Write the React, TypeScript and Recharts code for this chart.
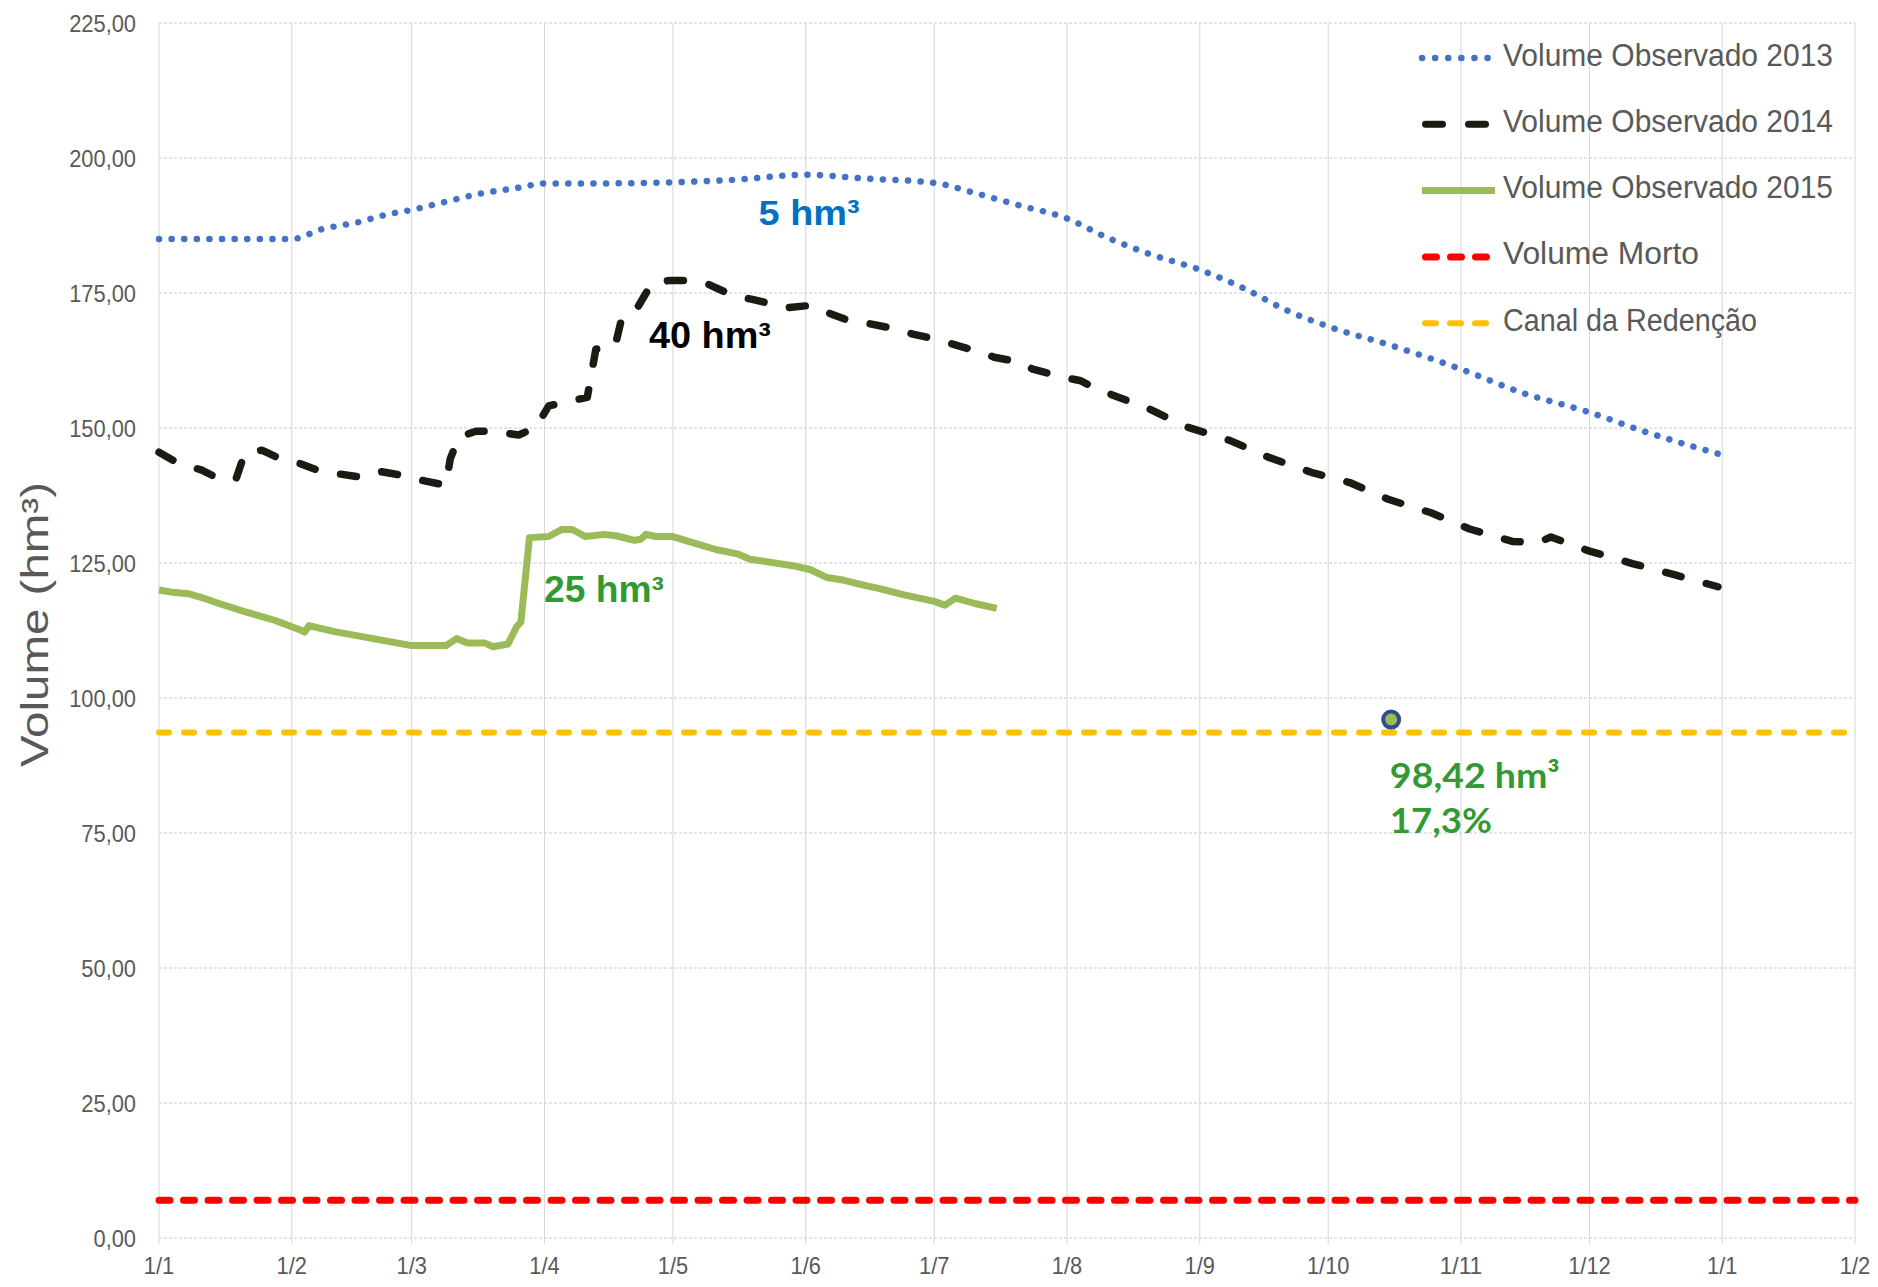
import React from 'react';
import {
  LineChart,
  Line,
  XAxis,
  YAxis,
  CartesianGrid,
  Legend,
  ReferenceDot,
} from 'recharts';

// eixo x: dias desde 1/1 (até 1/2 do ano seguinte)
const monthTicks = [0, 31, 59, 90, 120, 151, 181, 212, 243, 273, 304, 334, 365, 396];
const monthLabels = ['1/1', '1/2', '1/3', '1/4', '1/5', '1/6', '1/7', '1/8', '1/9', '1/10', '1/11', '1/12', '1/1', '1/2'];
const volumeTicks = [0, 25, 50, 75, 100, 125, 150, 175, 200, 225];

const days2013 = [0, 31, 38, 47, 53, 59, 67, 75, 84, 90, 105, 120, 135, 151, 165, 181, 191, 201, 212, 221, 231, 243, 254, 263, 273, 288, 304, 318, 334, 347, 365];
const vol2013 = [185, 185, 186.8, 188.2, 189.5, 190.4, 191.9, 193.4, 194.5, 195.3, 195.3, 195.5, 196, 196.9, 196.2, 195.4, 193.4, 191.2, 188.8, 185.4, 182.3, 179.3, 175.6, 171.9, 168.8, 165.2, 160.9, 156.6, 152.9, 149.3, 145];

const days2014 = [0, 4, 10, 14, 18, 20, 24, 28, 33, 37, 42, 47, 52, 57, 62, 67, 68, 70, 74, 78, 84, 88, 91, 95, 100, 102, 106.5, 108, 111.5, 115, 119, 124, 128, 133, 138, 143, 147, 152, 156, 161, 166, 171, 176, 181, 185, 192, 195, 201, 204, 211, 215, 220, 224, 231, 240, 250, 259, 269, 278, 287, 297, 306, 316, 322, 325, 334, 344, 354, 364];
const vol2014 = [145.5, 143.7, 142.2, 140.6, 140.6, 145.3, 145.9, 144.4, 143.4, 142.2, 141.5, 140.9, 141.9, 141.2, 140.2, 139.4, 144.3, 148.3, 149.4, 149.4, 148.7, 150.1, 154.1, 154.8, 155.7, 164.6, 165.2, 170.2, 172, 176.7, 177.3, 177.3, 176.7, 174.9, 173.9, 173, 172.3, 172.7, 171.4, 169.9, 169.3, 168.5, 167.4, 166.5, 165.6, 164, 163.1, 162.2, 160.9, 159.4, 158.8, 156.9, 155.7, 153.6, 150.2, 147.7, 144.6, 141.8, 139.9, 136.8, 134.3, 131.3, 129, 128.8, 129.8, 127.2, 124.9, 122.8, 120.6];

const days2015 = [0, 3, 7, 10, 14, 20, 27, 33, 34, 35, 41, 50, 59, 67, 69.5, 72, 76, 78, 81.5, 83.5, 84.5, 86.5, 91, 94, 96.5, 99.5, 104, 107, 111, 112.5, 113.7, 116, 120, 124, 130, 135, 138, 148, 152, 156, 160, 165, 168, 174, 181, 183.5, 186, 190.5, 195.6];
const vol2015 = [120, 119.6, 119.3, 118.6, 117.5, 116, 114.4, 112.6, 112.2, 113.4, 112.3, 111, 109.7, 109.7, 111, 110.2, 110.2, 109.5, 110, 113.2, 114.1, 129.7, 129.9, 131.2, 131.2, 129.9, 130.3, 130, 129.2, 129.4, 130.3, 129.9, 129.9, 128.9, 127.5, 126.7, 125.7, 124.5, 123.8, 122.3, 121.8, 120.8, 120.3, 119.1, 117.9, 117.2, 118.5, 117.5, 116.6];

const volumeMorto = 7;
const canalRedencao = 93.6;
const atualDia = 287.7;
const atualVolume = 96;

const toSeries = (days: number[], vols: number[]) => days.map((d, i) => ({ d, v: vols[i] }));
const flat = (v: number) => [{ d: 0, v }, { d: 396, v }];

const data2013 = toSeries(days2013, vol2013);
const data2014 = toSeries(days2014, vol2014);
const data2015 = toSeries(days2015, vol2015);
const dataMorto = flat(volumeMorto);
const dataCanal = flat(canalRedencao);
const dataAtual = [{ d: atualDia, v: atualVolume }];

const BLUE = '#4472C4';
const BLACK = '#1b1b14';
const GREEN = '#9BBB59';
const RED = '#FF0000';
const ORANGE = '#FFC000';
const GRAY_TEXT = '#595959';
const FONT = '"Liberation Sans", Arial, sans-serif';

const legendItems = [
  { name: 'Volume Observado 2013', color: BLUE, w: 6.5, dash: '0.1 13', cap: 'round', x1: 7, x2: 73, len: 330 },
  { name: 'Volume Observado 2014', color: BLACK, w: 7, dash: '17 26', cap: 'round', x1: 10.5, x2: 72, len: 330 },
  { name: 'Volume Observado 2015', color: GREEN, w: 7, dash: undefined, cap: 'butt', x1: 7, x2: 80, len: 330 },
  { name: 'Volume Morto', color: RED, w: 7, dash: '11 14', cap: 'round', x1: 10.5, x2: 72, len: 196 },
  { name: 'Canal da Redenção', color: ORANGE, w: 6, dash: '11 14', cap: 'round', x1: 10, x2: 72, len: 254 },
];

const LegendBox = () => (
  <svg width={470} height={330}>
    {legendItems.map((it, i) => {
      const y = 38 + i * 66.3;
      return (
        <g key={it.name}>
          <line
            x1={it.x1}
            x2={it.x2}
            y1={y}
            y2={y}
            stroke={it.color}
            strokeWidth={it.w}
            strokeDasharray={it.dash}
            strokeLinecap={it.cap as any}
          />
          <text
            x={88}
            y={y - 3}
            dominantBaseline="central"
            fontFamily={FONT}
            fontSize={31}
            fill={GRAY_TEXT}
            textLength={it.len}
            lengthAdjust="spacingAndGlyphs"
          >
            {it.name}
          </text>
        </g>
      );
    })}
  </svg>
);

// rótulos dos eixos um pouco condensados, como no original
const textWidth = (s: string, size: number) =>
  s.split('').reduce((w, c) => w + (c === ',' || c === '/' ? 0.278 : 0.556), 0) * size;

const AxisTick = (props: any) => {
  const { x, y, payload, textAnchor, tickFormatter, dyEm } = props;
  const label = tickFormatter ? tickFormatter(payload.value) : String(payload.value);
  const size = 24;
  return (
    <text
      x={x}
      y={y}
      dy={dyEm}
      textAnchor={textAnchor}
      fill={GRAY_TEXT}
      fontSize={size}
      fontFamily={FONT}
      textLength={textWidth(label, size) * 0.91}
      lengthAdjust="spacingAndGlyphs"
    >
      {label}
    </text>
  );
};

const annotation = (text: string, color: string, len: number, size: number, family: string) => ({
  content: (props: any) => {
    const vb = props.viewBox || {};
    return (
      <text
        x={vb.x}
        y={vb.y}
        fill={color}
        fontFamily={family}
        fontWeight="bold"
        fontSize={size}
        textLength={len}
        lengthAdjust="spacingAndGlyphs"
      >
        {text}
      </text>
    );
  },
});

const YTitle = (props: any) => {
  const vb = props.viewBox || { y: 23, height: 1215 };
  const cy = vb.y + vb.height / 2 - 6;
  return (
    <text
      x={35}
      y={cy}
      transform={`rotate(-90, 35, ${cy})`}
      textAnchor="middle"
      dominantBaseline="central"
      fontFamily={FONT}
      fontSize={38}
      fill={GRAY_TEXT}
      textLength={285}
      lengthAdjust="spacingAndGlyphs"
    >
      Volume (hm³)
    </text>
  );
};

const AtualDot = (props: any) => {
  const { cx, cy } = props;
  if (cx == null || cy == null) return null;
  return <circle cx={cx} cy={cy} r={8} fill={GREEN} stroke="#2F4F8A" strokeWidth={4} />;
};

export default function App() {
  return (
    <div style={{ position: 'absolute', left: 0, top: 0, width: 1878, height: 1287, background: '#fff' }}>
      <LineChart width={1878} height={1287} margin={{ top: 23, right: 23, bottom: 0, left: 0 }}>
        <CartesianGrid horizontal vertical={false} stroke="#c8c8c8" strokeDasharray="3 2" />
        <CartesianGrid horizontal={false} vertical stroke="#d6d6d6" />
        <XAxis
          type="number"
          dataKey="d"
          domain={[0, 396]}
          ticks={monthTicks}
          interval={0}
          height={49}
          axisLine={false}
          tickLine={{ stroke: '#d6d6d6' }}
          tickSize={6}
          tickMargin={12}
          tickFormatter={(v: number) => monthLabels[monthTicks.indexOf(v)] ?? ''}
          tick={<AxisTick dyEm="0.75em" />}
        />
        <YAxis
          type="number"
          domain={[0, 225]}
          ticks={volumeTicks}
          interval={0}
          width={159}
          axisLine={false}
          tickLine={false}
          tickSize={0}
          tickMargin={23}
          tickFormatter={(v: number) => v.toFixed(2).replace('.', ',')}
          tick={<AxisTick dyEm="0.36em" />}
          label={{ content: (p: any) => <YTitle {...p} /> }}
        />
        <Legend
          layout="vertical"
          align="center"
          verticalAlign="middle"
          content={() => <LegendBox />}
          wrapperStyle={{ left: 1415, top: 20, width: 470, height: 330 }}
        />

        <Line
          data={dataMorto}
          dataKey="v"
          name="Volume Morto"
          stroke={RED}
          strokeWidth={7}
          strokeDasharray="11 13.5"
          strokeLinecap="round"
          dot={false}
          activeDot={false}
          isAnimationActive={false}
        />
        <Line
          data={dataCanal}
          dataKey="v"
          name="Canal da Redenção"
          stroke={ORANGE}
          strokeWidth={6}
          strokeDasharray="10 15"
          strokeLinecap="round"
          dot={false}
          activeDot={false}
          isAnimationActive={false}
        />
        <Line
          data={data2013}
          dataKey="v"
          name="Volume Observado 2013"
          type="monotone"
          stroke={BLUE}
          strokeWidth={6.5}
          strokeDasharray="0.1 12.5"
          strokeLinecap="round"
          dot={false}
          activeDot={false}
          isAnimationActive={false}
        />
        <Line
          data={data2014}
          dataKey="v"
          name="Volume Observado 2014"
          type="linear"
          stroke={BLACK}
          strokeWidth={7.5}
          strokeDasharray="16 26"
          strokeLinecap="round"
          strokeLinejoin="round"
          dot={false}
          activeDot={false}
          isAnimationActive={false}
        />
        <Line
          data={data2015}
          dataKey="v"
          name="Volume Observado 2015"
          type="linear"
          stroke={GREEN}
          strokeWidth={7}
          strokeLinejoin="round"
          dot={false}
          activeDot={false}
          isAnimationActive={false}
        />
        <Line
          data={dataAtual}
          dataKey="v"
          name="Atual"
          stroke="none"
          dot={<AtualDot />}
          activeDot={false}
          legendType="none"
          isAnimationActive={false}
        />

        <ReferenceDot x={140} y={187.6} r={0} fill="none" stroke="none" ifOverflow="visible"
          label={annotation('5 hm³', '#0070C0', 101, 35, FONT)} />
        <ReferenceDot x={114.4} y={164.8} r={0} fill="none" stroke="none" ifOverflow="visible"
          label={annotation('40 hm³', '#000000', 122, 36, FONT)} />
        <ReferenceDot x={89.9} y={117.8} r={0} fill="none" stroke="none" ifOverflow="visible"
          label={annotation('25 hm³', '#339933', 120, 36, FONT)} />
        <ReferenceDot x={287.4} y={83.3} r={0} fill="none" stroke="none" ifOverflow="visible"
          label={annotation('98,42 hm³', '#339933', 170, 34, 'Lato, sans-serif')} />
        <ReferenceDot x={287.4} y={75} r={0} fill="none" stroke="none" ifOverflow="visible"
          label={annotation('17,3%', '#339933', 102, 34, 'Lato, sans-serif')} />
      </LineChart>
    </div>
  );
}
